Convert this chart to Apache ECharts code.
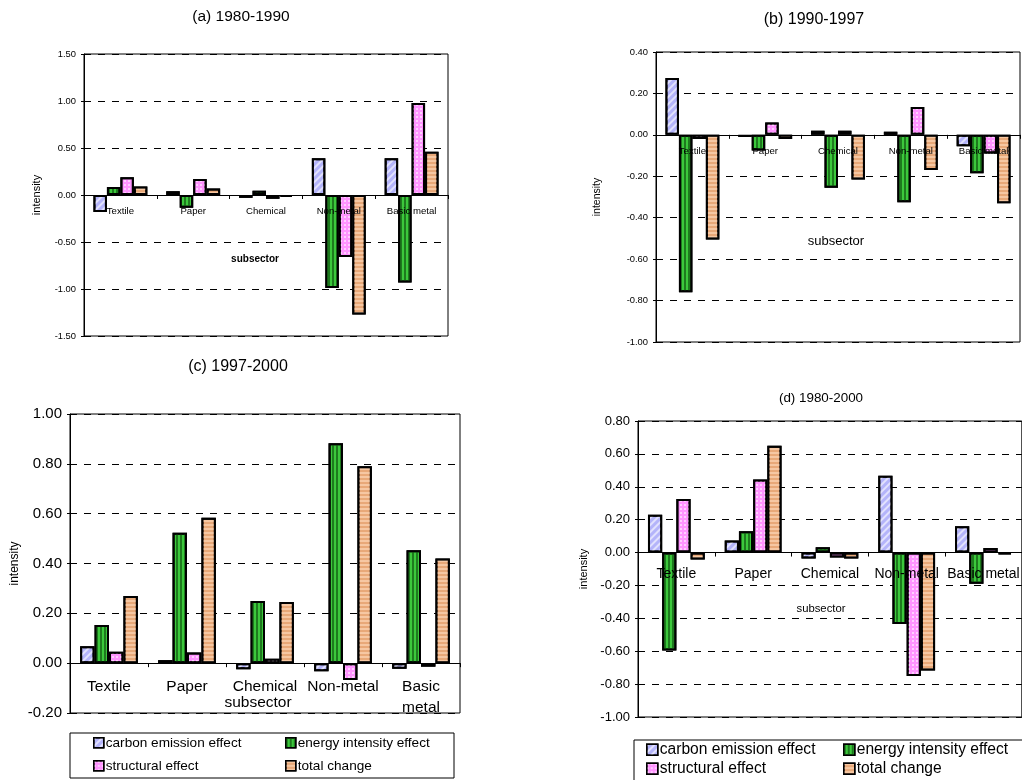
<!DOCTYPE html>
<html>
<head>
<meta charset="utf-8">
<script src="https://cdn.jsdelivr.net/npm/echarts@6/dist/echarts.min.js"></script>
<style>
  html, body { margin: 0; padding: 0; background: #ffffff; }
  #chart { width: 1022px; height: 780px; }
</style>
</head>
<body>
<div id="chart"></div>
<script>
const categories = ['Textile', 'Paper', 'Chemical', 'Non-metal', 'Basic metal'];
const seriesNames = ['carbon emission effect', 'energy intensity effect', 'structural effect', 'total change'];

// (a) 1980-1990
const carbon8090 = [-0.18, 0.04, -0.03, 0.39, 0.39];
const energy8090 = [0.085, -0.135, 0.045, -0.99, -0.93];
const struct8090 = [0.19, 0.17, -0.04, -0.66, 0.98];
const total8090 = [0.09, 0.07, -0.02, -1.27, 0.46];

// (b) 1990-1997
const carbon9097 = [0.275, -0.01, 0.02, 0.015, -0.055];
const energy9097 = [-0.76, -0.075, -0.255, -0.325, -0.185];
const struct9097 = [-0.02, 0.06, 0.02, 0.135, -0.09];
const total9097 = [-0.505, -0.02, -0.215, -0.17, -0.33];

// (c) 1997-2000
const carbon9700 = [0.068, 0.012, -0.024, -0.032, -0.022];
const energy9700 = [0.153, 0.523, 0.25, 0.883, 0.453];
const struct9700 = [0.046, 0.043, 0.018, -0.068, -0.014];
const total9700 = [0.27, 0.584, 0.245, 0.79, 0.42];

// (d) 1980-2000
const carbon8000 = [0.23, 0.073, -0.036, 0.467, 0.16];
const energy8000 = [-0.596, 0.13, 0.032, -0.434, -0.19];
const struct8000 = [0.325, 0.444, -0.03, -0.75, 0.028];
const total8000 = [-0.042, 0.65, -0.036, -0.717, -0.01];

const FONT = "'Liberation Sans', Arial, sans-serif";

// fill + hatch pattern for each effect
const BAR_STYLES = [
  { color: '#b4b4fa', decal: { symbol: 'rect', symbolSize: 1, dashArrayX: [1, 0], dashArrayY: [1.2, 2.2], rotation: -Math.PI / 4, color: 'rgba(255,255,255,0.6)' } },
  { color: '#3cc83c', decal: { symbol: 'rect', symbolSize: 1, dashArrayX: [1.5, 2], dashArrayY: [1, 0], color: '#1e7a1e' } },
  { color: '#ff94ff', decal: { symbol: 'rect', symbolSize: 1, dashArrayX: [1.5, 1.5], dashArrayY: [1.5, 1.5], color: 'rgba(255,255,255,0.55)' } },
  { color: '#e8a878', decal: { symbol: 'rect', symbolSize: 1, dashArrayX: [1, 0], dashArrayY: [1.5, 2], color: 'rgba(255,220,190,0.6)' } },
];

const PANELS = [
  {
    title: '(a) 1980-1990', titleX: 241, titleY: 9, titleSize: 15.5,
    data: [carbon8090, energy8090, struct8090, total8090],
    grid: { left: 84, top: 54, width: 364, height: 282 },
    min: -1.5, max: 1.5, interval: 0.5,
    yFont: 9.4, xFont: 9.6, xMargin: 10, nameFont: 11, nameGap: 42,
    sub: { x: 255, y: 259, size: 10, weight: 'bold' },
  },
  {
    title: '(b) 1990-1997', titleX: 814, titleY: 12, titleSize: 16,
    data: [carbon9097, energy9097, struct9097, total9097],
    grid: { left: 656, top: 52, width: 364, height: 290 },
    min: -1.0, max: 0.4, interval: 0.2,
    yFont: 9.4, xFont: 9.6, xMargin: 10, nameFont: 10.5, nameGap: 53,
    sub: { x: 836, y: 241, size: 13, weight: 'normal' },
  },
  {
    title: '(c) 1997-2000', titleX: 238, titleY: 359, titleSize: 16,
    data: [carbon9700, energy9700, struct9700, total9700],
    grid: { left: 70, top: 414, width: 390, height: 299 },
    min: -0.2, max: 1.0, interval: 0.2,
    yFont: 15, xFont: 15.5, xMargin: 13, nameFont: 12, nameGap: 49,
    sub: { x: 258, y: 703, size: 15.5, weight: 'normal' },
  },
  {
    title: '(d) 1980-2000', titleX: 821, titleY: 392, titleSize: 13.4,
    data: [carbon8000, energy8000, struct8000, total8000],
    grid: { left: 638, top: 421, width: 390, height: 296 },
    min: -1.0, max: 0.8, interval: 0.2,
    yFont: 13, xFont: 14, xMargin: 12, nameFont: 11, nameGap: 49,
    sub: { x: 821, y: 609, size: 11.3, weight: 'normal' },
  },
];

// legend boxes: [box, item positions, font, icon]
const LEGENDS = [
  { box: [70, 733, 384, 45], cols: [93, 285], rows: [744, 767], font: 13.6, icon: 10 },
  { box: [634, 740, 400, 60], cols: [646, 843], rows: [751, 770], font: 15.6, icon: 11 },
];

const grids = [];
const xAxes = [];
const yAxes = [];
const series = [];
const titles = [];
const graphics = [];
const legends = [];

PANELS.forEach((p, i) => {
  // lift the category axis from the grid bottom up to the zero line
  const zeroLift = p.grid.height * (0 - p.min) / (p.max - p.min);
  grids.push(Object.assign({ show: true, borderColor: '#000', borderWidth: 1, backgroundColor: '#fff' }, p.grid));
  titles.push({
    text: p.title, left: p.titleX, top: p.titleY, textAlign: 'center', padding: 0,
    textStyle: { fontFamily: FONT, fontSize: p.titleSize, fontWeight: 'normal', color: '#000' },
  });
  xAxes.push({
    type: 'category', gridIndex: i, data: categories, position: 'bottom', offset: -zeroLift,
    z: 5, // category names sit on top of the bars, like the original
    axisLine: { onZero: false, lineStyle: { color: '#000', width: 1 } },
    axisTick: { show: true, length: 4, lineStyle: { color: '#000' } },
    axisLabel: {
      interval: 0, margin: p.xMargin, fontFamily: FONT, fontSize: p.xFont, color: '#000', lineHeight: p.xFont * 1.35,
      formatter: i === 2 ? (v) => (v === 'Basic metal' ? 'Basic\nmetal' : v) : (v) => v,
    },
    splitLine: { show: false },
  });
  yAxes.push({
    type: 'value', gridIndex: i, min: p.min, max: p.max, interval: p.interval,
    name: 'intensity', nameLocation: 'middle', nameGap: p.nameGap, nameRotate: 90,
    nameTextStyle: { fontFamily: FONT, fontSize: p.nameFont, color: '#000' },
    axisLine: { show: true, lineStyle: { color: '#000', width: 1 } },
    axisTick: { show: true, length: 3, lineStyle: { color: '#000' } },
    axisLabel: {
      margin: 8, fontFamily: FONT, fontSize: p.yFont, color: '#000',
      formatter: (v) => v.toFixed(2),
    },
    splitLine: { show: true, lineStyle: { color: '#000', type: [7, 7], width: 1 } },
  });
  p.data.forEach((values, k) => {
    series.push({
      name: seriesNames[k], type: 'bar', xAxisIndex: i, yAxisIndex: i,
      data: values, barGap: '0%', barCategoryGap: '26%',
      itemStyle: { color: BAR_STYLES[k].color, decal: BAR_STYLES[k].decal, borderColor: '#000', borderWidth: 2 },
      emphasis: { disabled: true },
      animation: false,
    });
  });
  graphics.push({
    type: 'text', x: p.sub.x, y: p.sub.y, z: 100,
    style: {
      text: 'subsector', textAlign: 'center', textVerticalAlign: 'middle',
      font: p.sub.weight + ' ' + p.sub.size + 'px ' + FONT, fill: '#000',
    },
  });
});

LEGENDS.forEach((l) => {
  graphics.push({
    type: 'rect', shape: { x: l.box[0], y: l.box[1], width: l.box[2], height: l.box[3] },
    style: { fill: '#fff', stroke: '#000', lineWidth: 1 }, z: 1,
  });
  seriesNames.forEach((name, k) => {
    legends.push({
      data: [name], selectedMode: false, orient: 'horizontal', padding: 0,
      left: l.cols[k % 2], top: l.rows[Math.floor(k / 2)] - l.font * 0.6,
      icon: 'rect', itemWidth: l.icon, itemHeight: l.icon,
      itemStyle: { borderColor: '#000', borderWidth: 1.5 },
      textStyle: { fontFamily: FONT, fontSize: l.font, color: '#000', padding: [0, 0, 0, -3] },
      z: 10,
    });
  });
});

const chart = echarts.init(document.getElementById('chart'), null, { renderer: 'canvas' });
chart.setOption({
  backgroundColor: '#ffffff',
  animation: false,
  title: titles,
  grid: grids,
  xAxis: xAxes,
  yAxis: yAxes,
  legend: legends,
  series: series,
  graphic: graphics,
});
</script>
</body>
</html>
